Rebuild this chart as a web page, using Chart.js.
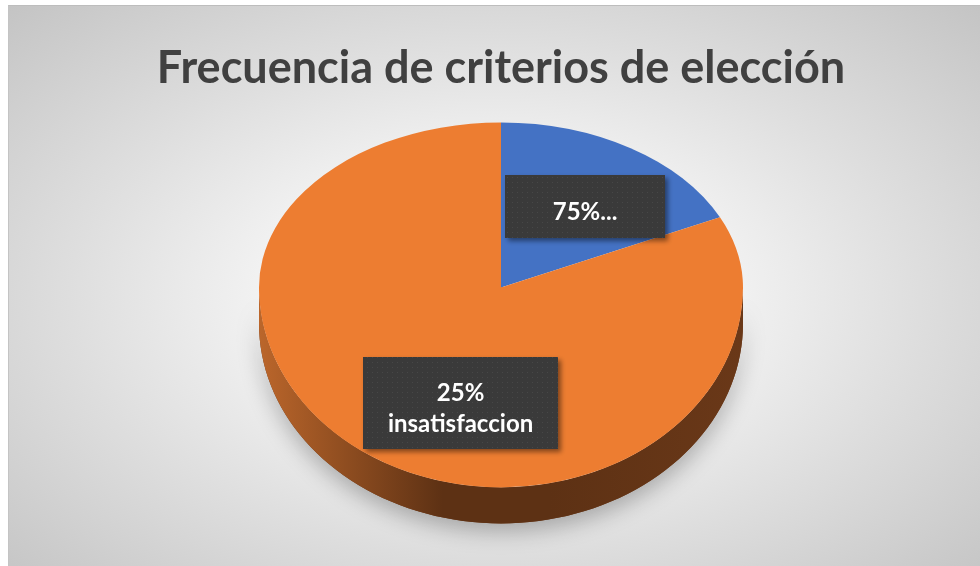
<!DOCTYPE html>
<html>
<head>
<meta charset="utf-8">
<script src="https://cdn.jsdelivr.net/npm/chart.js@4/dist/chart.umd.min.js"></script>
<style>
  html, body { margin: 0; padding: 0; background: #ffffff; }
  #wrap { position: relative; width: 980px; height: 566px; overflow: hidden; }
  #bg {
    position: absolute; left: 8px; top: 5px; width: 972px; height: 561px;
    border-top: 1px solid #bdbdbd; border-left: 1px solid #c4c4c4; box-sizing: border-box;
    background: radial-gradient(ellipse farthest-corner at 50% 52%, #ffffff 0%, #f6f6f6 28%, #dedede 62%, #c4c4c4 100%);
  }
  canvas { position: absolute; left: 0; top: 0; }
</style>
</head>
<body>
<div id="wrap">
  <div id="bg"></div>
  <canvas id="c" width="980" height="566"></canvas>
</div>
<script>
// ---- data ----
const chartTitle = 'Frecuencia de criterios de elección';
const categories = ['75%...', '25% insatisfaccion'];
const values = [18, 82];
const labelLines = [['75%...'], ['25%', 'insatisfaccion']];
const sliceColors = ['#4472C4', '#ED7D31'];
const sideColors = [['#3a62a8', '#203a6a', '#24406f'], ['#bb662b', '#5d3114', '#6a3818']];

// ---- style constants ----
const SCALE_TOP = 0.682;   // vertical squash of back half
const SCALE_BOT = 0.826;   // vertical squash of front half (perspective)
const DEPTH = 36;
const labelBox = [[160, 63], [195, 92]];
const labelAngleFrac = [0.546, 0.445];
const labelRadiusFrac = 0.6;

function makePattern(ctx) {
  const p = document.createElement('canvas');
  p.width = 5; p.height = 5;
  const g = p.getContext('2d');
  g.fillStyle = '#3a3a3a'; g.fillRect(0, 0, 5, 5);
  g.fillStyle = '#474747'; g.fillRect(2, 2, 1, 1);
  return ctx.createPattern(p, 'repeat');
}

const pie3d = {
  id: 'pie3d',
  beforeDatasetsDraw(chart) {
    const ctx = chart.ctx;
    const meta = chart.getDatasetMeta(0);
    const arcs = meta.data;
    if (!arcs.length) return;
    const cx = arcs[0].x, cy = arcs[0].y, R = arcs[0].outerRadius;
    const W = chart.width, H = chart.height;

    // side walls (front half only)
    const TWO = Math.PI * 2;
    const pieces = [];
    arcs.forEach((a, i) => {
      for (const k of [-1, 0, 1]) {
        const s = Math.max(a.startAngle + k * TWO, 0);
        const e = Math.min(a.endAngle + k * TWO, Math.PI);
        if (e > s) pieces.push({ i, s, e });
      }
    });
    const sidePath = (s, e) => {
      ctx.beginPath();
      const n = 80;
      for (let j = 0; j <= n; j++) {
        const t = s + (e - s) * j / n;
        const x = cx + R * Math.cos(t), y = cy + R * SCALE_BOT * Math.sin(t);
        if (j === 0) ctx.moveTo(x, y); else ctx.lineTo(x, y);
      }
      for (let j = n; j >= 0; j--) {
        const t = s + (e - s) * j / n;
        ctx.lineTo(cx + R * Math.cos(t), cy + R * SCALE_BOT * Math.sin(t) + DEPTH);
      }
      ctx.closePath();
    };
    // soft shadow under pie
    ctx.save();
    ctx.shadowColor = 'rgba(0,0,0,0.28)';
    ctx.shadowBlur = 22;
    ctx.shadowOffsetY = 8;
    sidePath(0, Math.PI);
    ctx.fillStyle = '#6a3818';
    ctx.fill();
    ctx.restore();
    pieces.forEach(p => {
      const c = sideColors[p.i];
      const g = ctx.createLinearGradient(cx - R, 0, cx + R, 0);
      g.addColorStop(0, c[0]);
      g.addColorStop(0.38, c[1]);
      g.addColorStop(0.6, c[1]);
      g.addColorStop(1, c[2]);
      ctx.save();
      sidePath(p.s, p.e);
      ctx.fillStyle = g;
      ctx.fill();
      ctx.restore();
    });

    // top face: front half and back half with different squash (overlapping clips, integer bounds)
    const yf = Math.floor(cy), yc = Math.ceil(cy) + 1;
    [[yf, H - yf, SCALE_BOT], [0, yc, SCALE_TOP]].forEach(([y0, h, s]) => {
      ctx.save();
      ctx.beginPath();
      ctx.rect(0, y0, W, h);
      ctx.clip();
      ctx.translate(cx, cy);
      ctx.scale(1, s);
      ctx.translate(-cx, -cy);
      meta.controller.draw();
      ctx.restore();
    });
    return false;
  },
  afterDraw(chart) {
    const ctx = chart.ctx;
    const arcs = chart.getDatasetMeta(0).data;
    if (!arcs.length) return;
    const cx = arcs[0].x, cy = arcs[0].y, R = arcs[0].outerRadius;
    const pat = makePattern(ctx);
    arcs.forEach((a, i) => {
      const ang = a.startAngle + labelAngleFrac[i] * (a.endAngle - a.startAngle);
      const r = labelRadiusFrac * R;
      const sn = Math.sin(ang);
      const x = cx + r * Math.cos(ang);
      const y = cy + r * sn * (sn > 0 ? SCALE_BOT : SCALE_TOP);
      const [bw, bh] = labelBox[i];
      ctx.save();
      ctx.shadowColor = 'rgba(0,0,0,0.45)';
      ctx.shadowBlur = 5;
      ctx.shadowOffsetX = 3;
      ctx.shadowOffsetY = 3;
      ctx.fillStyle = pat;
      ctx.fillRect(Math.round(x - bw / 2), Math.round(y - bh / 2), bw, bh);
      ctx.restore();
      const lines = labelLines[i];
      ctx.save();
      ctx.fillStyle = '#ffffff';
      ctx.font = 'bold 24px Lato';
      ctx.textAlign = 'center';
      ctx.textBaseline = 'alphabetic';
      const lh = 31;
      const mid = y + 5;
      lines.forEach((t, k) => {
        const capMid = mid + (k - (lines.length - 1) / 2) * lh;
        ctx.fillText(t, x, capMid + 8.6);
      });
      ctx.restore();
    });
  }
};

document.fonts.load('bold 45px Lato').then(() => {
  new Chart(document.getElementById('c'), {
    type: 'pie',
    data: {
      labels: categories,
      datasets: [{
        data: values,
        backgroundColor: sliceColors,
        borderWidth: 0,
        radius: 242
      }]
    },
    options: {
      responsive: false,
      animation: false,
      devicePixelRatio: 1,
      layout: { padding: { left: 22, right: 0, top: 0, bottom: 86 } },
      plugins: {
        legend: { display: false },
        tooltip: { enabled: false },
        title: {
          display: true,
          text: chartTitle,
          color: '#404040',
          font: { family: 'Lato', size: 45, weight: 'bold' },
          padding: { top: 41, bottom: 0 }
        }
      }
    },
    plugins: [pie3d]
  });
});
</script>
</body>
</html>
